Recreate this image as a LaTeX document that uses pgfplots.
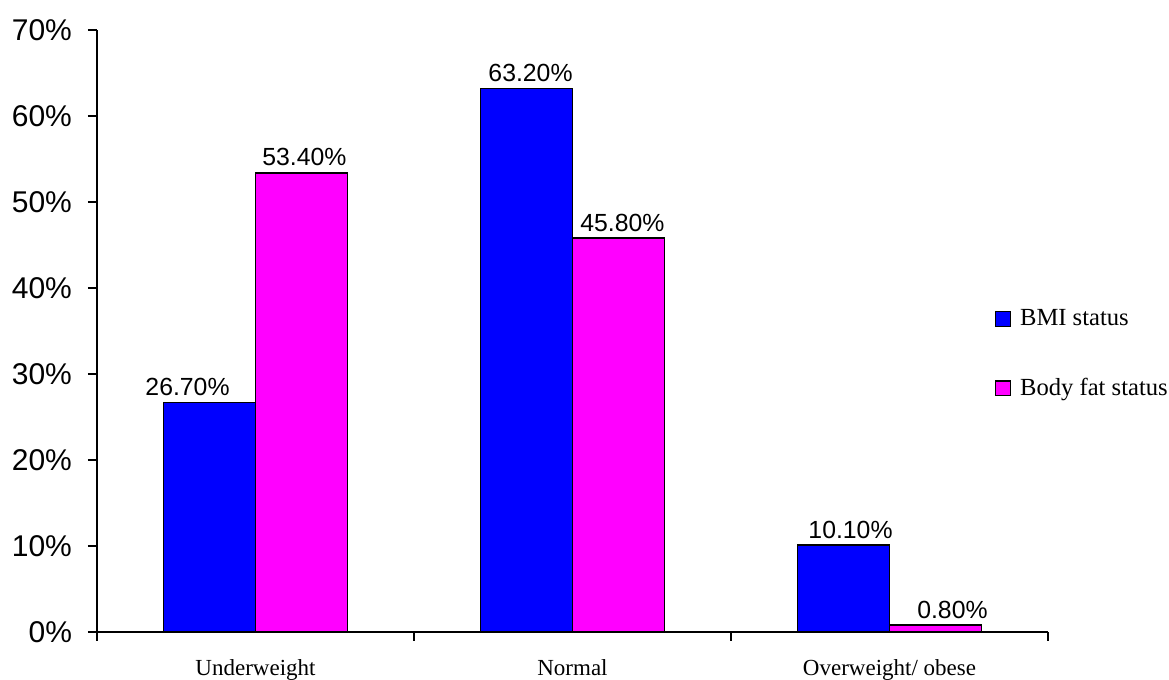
\documentclass[border=0pt]{standalone}
\usepackage{pgfplots}
\usepackage{pgfplotstable}
\pgfplotsset{compat=1.18}
\usepackage{fontspec}
\setmainfont{Liberation Serif}
\newfontfamily\arial{Liberation Sans}
\definecolor{bmiblue}{RGB}{0,0,255}
\definecolor{fatmag}{RGB}{255,0,255}
\pgfplotstableread{
x y dx
0 26.7 -11
1 63.2 2
2 10.1 3.5
}\bmi
\pgfplotstableread{
x y dx
0 53.4 1.5
1 45.8 2
2 0.8 8.5
}\fat
\begin{document}
\begin{tikzpicture}
\path[use as bounding box] (-48.5pt,-24pt) rectangle (536pt,316pt);
\begin{axis}[
  at={(0,0)}, anchor=south west,
  scale only axis, width=475.5pt, height=301pt,
  ybar=0pt, bar width=0.29,
  xmin=-0.5, xmax=2.5, ymin=0, ymax=70,
  axis x line*=bottom, axis y line*=left,
  axis line style={line width=0.75pt, -},
  tick align=outside, major tick length=4.5pt,
  tick style={line width=0.75pt, black},
  xtick={-0.5,0.5,1.5,2.5}, xticklabels={},
  extra x ticks={0,1,2},
  extra x tick labels={Underweight,Normal,Overweight/ obese},
  extra x tick style={major tick length=0pt, tick label style={yshift=-10pt}},
  xticklabel style={font=\fontsize{11.5}{13}\selectfont},
  ytick={0,10,...,70},
  yticklabels={0\%,10\%,20\%,30\%,40\%,50\%,60\%,70\%},
  yticklabel style={font=\arial\fontsize{15}{17}\selectfont, xshift=-4.5pt},
  /pgf/number format/assume math mode=true,
  legend style={draw=none, fill=none, at={(0.944,0.462)}, anchor=west,
    font=\fontsize{12.3}{14}\selectfont, row sep=21pt, inner sep=0pt, column sep=2.5pt},
  legend cell align=left,
  legend image code/.code={\draw[#1, line width=0.6pt] (0pt,-3.7pt) rectangle (7.4pt,3.7pt);},
]
\addplot[fill=bmiblue, draw=black, line width=0.75pt,
  visualization depends on={\thisrow{dx} \as \dx},
  nodes near coords={\pgfmathprintnumber[fixed,fixed zerofill,precision=2,assume math mode=true]{\pgfplotspointmeta}\%},
  nodes near coords style={font=\arial\fontsize{12.4}{14}\selectfont, inner sep=3pt, xshift=\dx}]
  table[x=x, y=y] {\bmi};
\addplot[fill=fatmag, draw=black, line width=0.75pt,
  visualization depends on={\thisrow{dx} \as \dx},
  nodes near coords={\pgfmathprintnumber[fixed,fixed zerofill,precision=2,assume math mode=true]{\pgfplotspointmeta}\%},
  nodes near coords style={font=\arial\fontsize{12.4}{14}\selectfont, inner sep=3pt, xshift=\dx}]
  table[x=x, y=y] {\fat};
\legend{BMI status, Body fat status}
\end{axis}
\end{tikzpicture}
\end{document}
